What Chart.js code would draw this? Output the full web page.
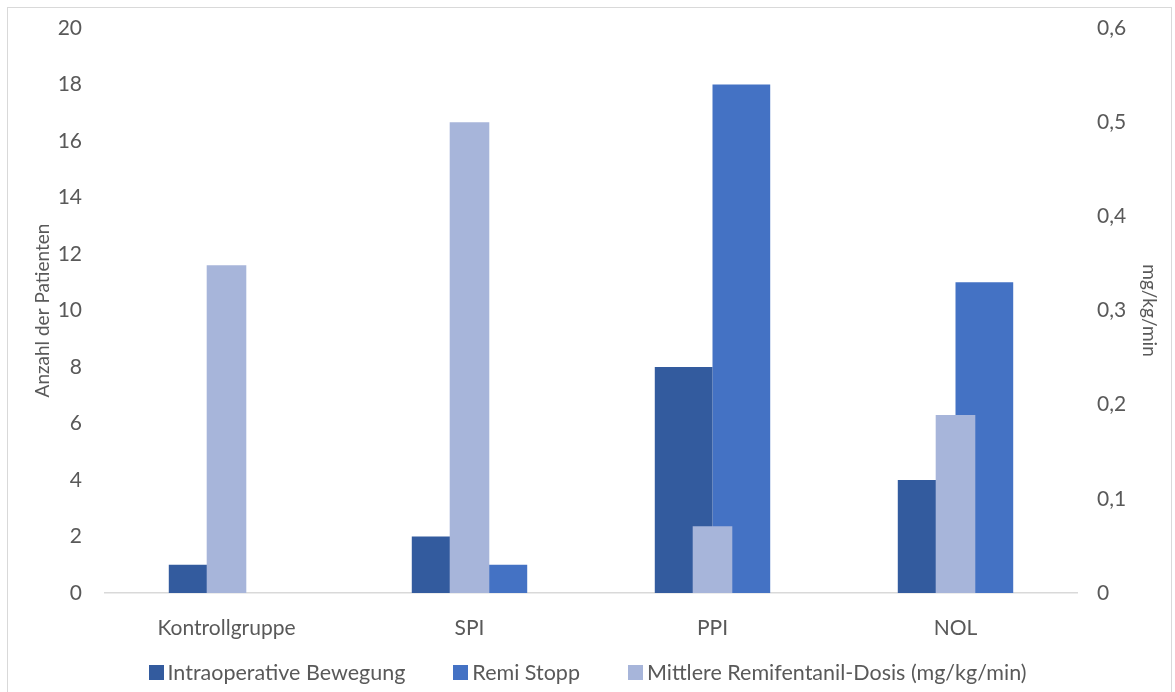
<!DOCTYPE html>
<html>
<head>
<meta charset="utf-8">
<script src="https://cdn.jsdelivr.net/npm/chart.js@4.4.1/dist/chart.umd.min.js"></script>
<style>
  html, body { margin: 0; padding: 0; background: #ffffff; }
  #wrap { position: relative; width: 1175px; height: 692px; overflow: hidden; }
  #frame { position: absolute; left: 7px; top: 7px; width: 1165px; height: 700px; border: 1px solid #d9d9d9; box-sizing: border-box; pointer-events: none; }
  canvas { position: absolute; left: 0; top: 0; }
  #legend { position: absolute; left: 0; width: 1175px; top: 660px; height: 24px; display: flex; justify-content: center; align-items: center;
            font-family: Lato, "Open Sans", sans-serif; font-size: 21.5px; color: #595959; white-space: nowrap; }
  #legend .item { display: flex; align-items: center; margin: 0 24px; }
  #legend .box { width: 15px; height: 15px; margin-right: 4px; flex: none; }
</style>
</head>
<body>
<div id="wrap">
  <canvas id="chart" width="1175" height="692"></canvas>
  <div id="legend"></div>
  <div id="frame"></div>
</div>
<script>
// Groups and series
const categories = ['Kontrollgruppe', 'SPI', 'PPI', 'NOL'];
const bewegung = [1, 2, 8, 4];                 // Intraoperative Bewegung (Anzahl)
const remiStopp = [0, 1, 18, 11];              // Remi Stopp (Anzahl)
const remiDosis = [0.348, 0.5, 0.071, 0.189];  // Mittlere Remifentanil-Dosis (mg/kg/min)

const leftTicks = [0, 2, 4, 6, 8, 10, 12, 14, 16, 18, 20];
const rightTicks = [0, 0.1, 0.2, 0.3, 0.4, 0.5, 0.6];

const FONT = 'Lato, "Open Sans", sans-serif';
const GREY = '#595959';
const TICK_SIZE = 21;
const TITLE_SIZE = 19;

Chart.defaults.font.family = FONT;
Chart.defaults.color = GREY;

const fmtComma = v => (v === 0 ? '0' : v.toFixed(1).replace('.', ','));

// fixed axis widths; no extra top/bottom room reserved for tick labels
const fitVertical = w => s => { s.width = w; s.paddingTop = 0; s.paddingBottom = 0; };

const chart = new Chart(document.getElementById('chart'), {
  type: 'bar',
  data: {
    labels: categories,
    datasets: [
      {
        label: 'Intraoperative Bewegung',
        data: bewegung,
        backgroundColor: '#335B9E',
        yAxisID: 'y',
        categoryPercentage: 0.475,
        barPercentage: 1.0,
        order: 1
      },
      {
        label: 'Remi Stopp',
        data: remiStopp,
        backgroundColor: '#4472C4',
        yAxisID: 'y',
        categoryPercentage: 0.475,
        barPercentage: 1.0,
        order: 1
      },
      {
        // secondary-axis series, centred on each group and drawn on top
        label: 'Mittlere Remifentanil-Dosis (mg/kg/min)',
        data: remiDosis,
        backgroundColor: '#A7B5DA',
        yAxisID: 'y2',
        grouped: false,
        categoryPercentage: 1.0,
        barPercentage: 0.163,
        order: 0
      }
    ]
  },
  options: {
    responsive: false,
    animation: false,
    layout: { padding: { top: 28, left: 31, right: 14, bottom: 39 } },
    plugins: {
      legend: { display: false },
      tooltip: { enabled: false }
    },
    scales: {
      x: {
        type: 'category',
        position: 'bottom',
        grid: { display: false, drawTicks: false },
        border: { display: true, color: '#d9d9d9', width: 1.5 },
        ticks: { color: GREY, font: { size: TICK_SIZE, family: FONT }, padding: 23, maxRotation: 0 },
        afterFit: s => { s.height = 60; s.paddingLeft = 0; s.paddingRight = 0; }
      },
      y: {
        position: 'left',
        min: 0,
        max: 20,
        afterBuildTicks: s => { s.ticks = leftTicks.map(v => ({ value: v })); },
        grid: { display: false, drawTicks: false },
        border: { display: false },
        ticks: { color: GREY, font: { size: TICK_SIZE, family: FONT }, padding: 23 },
        title: { display: true, text: 'Anzahl der Patienten', color: GREY, font: { size: TITLE_SIZE, family: FONT }, padding: 0 },
        afterFit: fitVertical(74)
      },
      y2: {
        position: 'right',
        min: 0,
        max: 0.6,
        afterBuildTicks: s => { s.ticks = rightTicks.map(v => ({ value: v })); },
        grid: { display: false, drawTicks: false },
        border: { display: false },
        ticks: { color: GREY, font: { size: TICK_SIZE, family: FONT }, padding: 20, callback: v => fmtComma(v) },
        title: { display: true, text: 'mg/kg/min', color: GREY, font: { size: TITLE_SIZE, family: FONT }, padding: 0 },
        afterFit: fitVertical(84)
      }
    }
  }
});

// Legend built from the chart's own datasets
const legendEl = document.getElementById('legend');
chart.data.datasets.forEach(ds => {
  const item = document.createElement('div');
  item.className = 'item';
  const box = document.createElement('span');
  box.className = 'box';
  box.style.background = ds.backgroundColor;
  const txt = document.createElement('span');
  txt.textContent = ds.label;
  item.appendChild(box);
  item.appendChild(txt);
  legendEl.appendChild(item);
});
</script>
</body>
</html>
